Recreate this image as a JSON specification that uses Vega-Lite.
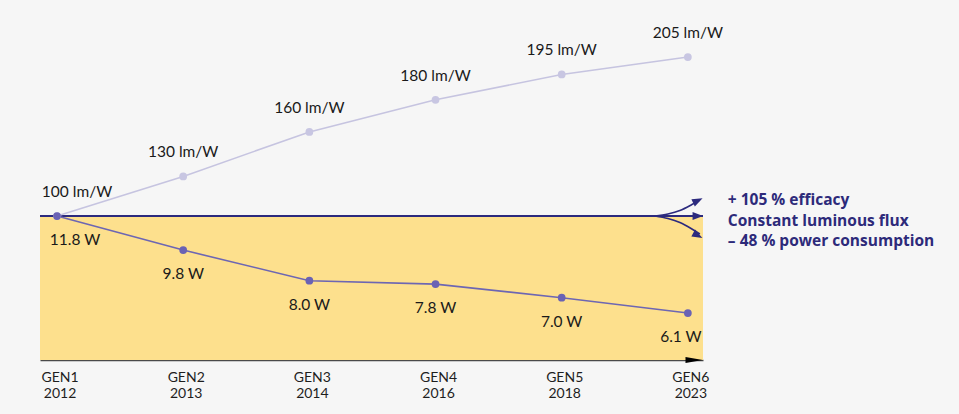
{
  "$schema": "https://vega.github.io/schema/vega-lite/v6.json",
  "width": 663,
  "height": 340,
  "autosize": {"type": "none"},
  "padding": {"left": 40, "top": 20, "right": 256, "bottom": 54},
  "background": "#f6f6f6",
  "config": {
    "view": {"stroke": null},
    "font": "Lato",
    "axisX": {"domain": true, "domainColor": "#4a4a4a", "domainWidth": 1.5, "labels": false, "ticks": false, "grid": false, "title": null}
  },
  "datasets": {
    "gens": [
      {"gen": "GEN1", "year": "2012", "idx": 0, "efficacy": 100, "power": 11.8},
      {"gen": "GEN2", "year": "2013", "idx": 1, "efficacy": 130, "power": 9.8},
      {"gen": "GEN3", "year": "2014", "idx": 2, "efficacy": 160, "power": 8.0},
      {"gen": "GEN4", "year": "2016", "idx": 3, "efficacy": 180, "power": 7.8},
      {"gen": "GEN5", "year": "2018", "idx": 4, "efficacy": 195, "power": 7.0},
      {"gen": "GEN6", "year": "2023", "idx": 5, "efficacy": 205, "power": 6.1}
    ],
    "arrows": [
      {"arrow": "up", "step": 0, "idx": 4.739, "p": 11.8},
      {"arrow": "up", "step": 1, "idx": 4.842, "p": 11.918},
      {"arrow": "up", "step": 2, "idx": 4.937, "p": 12.123},
      {"arrow": "up", "step": 3, "idx": 5.032, "p": 12.476},
      {"arrow": "up", "step": 4, "idx": 5.095, "p": 12.74},
      {"arrow": "down", "step": 0, "idx": 4.739, "p": 11.8},
      {"arrow": "down", "step": 1, "idx": 4.842, "p": 11.653},
      {"arrow": "down", "step": 2, "idx": 4.937, "p": 11.418},
      {"arrow": "down", "step": 3, "idx": 5.032, "p": 11.036},
      {"arrow": "down", "step": 4, "idx": 5.095, "p": 10.742}
    ],
    "heads": [
      {"arrow": "up", "idx": 5.079, "p": 12.71, "angle": -26},
      {"arrow": "flat", "idx": 5.079, "p": 11.8, "angle": 0},
      {"arrow": "down", "idx": 5.079, "p": 10.654, "angle": 28}
    ],
    "notes": [
      {"text": "+ 105 % efficacy\nConstant luminous flux\n– 48 % power consumption", "idx": 5.317, "p": 11.8}
    ],
    "frame": [
      {"left": -0.135, "right": 5.12, "base": 11.8, "floor": 3.34, "axisArrow": 5.05}
    ]
  },
  "layer": [
    {
      "layer": [
        {
          "data": {"name": "frame"},
          "mark": {"type": "rect", "color": "#fde08d"},
          "encoding": {
            "x": {"field": "left", "type": "quantitative", "scale": {"domain": [-0.135, 5.12], "nice": false, "zero": false}, "title": null},
            "x2": {"field": "right"},
            "y": {"field": "base", "type": "quantitative", "scale": {"type": "linear", "domain": [3.34, 23.32], "nice": false, "zero": false}, "axis": null},
            "y2": {"field": "floor"}
          }
        },
        {
          "data": {"name": "frame"},
          "mark": {"type": "rule", "color": "#2c2a7e", "strokeWidth": 2},
          "encoding": {
            "x": {"field": "left", "type": "quantitative", "title": null},
            "x2": {"field": "right"},
            "y": {"field": "base", "type": "quantitative", "axis": null}
          }
        },
        {
          "data": {"name": "arrows"},
          "mark": {"type": "line", "color": "#2c2a7e", "strokeWidth": 1.6, "interpolate": "monotone"},
          "encoding": {
            "x": {"field": "idx", "type": "quantitative", "title": null},
            "y": {"field": "p", "type": "quantitative", "axis": null},
            "detail": {"field": "arrow"},
            "order": {"field": "step"}
          }
        },
        {
          "data": {"name": "heads"},
          "mark": {"type": "point", "filled": true, "opacity": 1, "color": "#2c2a7e", "shape": "M-1,-0.75L1,0L-1,0.75Z", "size": 110},
          "encoding": {
            "x": {"field": "idx", "type": "quantitative", "title": null},
            "y": {"field": "p", "type": "quantitative", "axis": null},
            "angle": {"field": "angle", "type": "quantitative", "scale": null}
          }
        },
        {
          "data": {"name": "frame"},
          "mark": {"type": "point", "filled": true, "opacity": 1, "color": "#000000", "shape": "M-1,-0.35L1,0L-1,0.35Z", "size": 300},
          "encoding": {
            "x": {"field": "axisArrow", "type": "quantitative", "title": null},
            "y": {"field": "floor", "type": "quantitative", "axis": null}
          }
        },
        {
          "data": {"name": "gens"},
          "mark": {"type": "line", "color": "#6d66b3", "strokeWidth": 1.6},
          "encoding": {
            "x": {"field": "idx", "type": "quantitative", "title": null},
            "y": {"field": "power", "type": "quantitative", "axis": null}
          }
        },
        {
          "data": {"name": "notes"},
          "mark": {"type": "text", "align": "left", "baseline": "middle", "font": "Open Sans", "fontWeight": "bold", "fontSize": 15.5, "color": "#2d2a7a", "lineHeight": 20.5, "lineBreak": "\n", "dy": -16},
          "encoding": {
            "x": {"field": "idx", "type": "quantitative", "title": null},
            "y": {"field": "p", "type": "quantitative", "axis": null},
            "text": {"field": "text"}
          }
        },
        {
          "data": {"name": "gens"},
          "mark": {"type": "text", "align": "center", "baseline": "middle", "fontSize": 14, "color": "#1e1e1e", "dx": 3, "dy": 18},
          "encoding": {
            "x": {"field": "idx", "type": "quantitative", "title": null},
            "y": {"value": "height"},
            "text": {"field": "gen"}
          }
        },
        {
          "data": {"name": "gens"},
          "mark": {"type": "text", "align": "center", "baseline": "middle", "fontSize": 14, "color": "#1e1e1e", "dx": 3, "dy": 34},
          "encoding": {
            "x": {"field": "idx", "type": "quantitative", "title": null},
            "y": {"value": "height"},
            "text": {"field": "year"}
          }
        }
      ]
    },
    {
      "data": {"name": "gens"},
      "layer": [
        {
          "mark": {"type": "line", "color": "#c6c4e0", "strokeWidth": 1.6},
          "encoding": {
            "x": {"field": "idx", "type": "quantitative", "title": null},
            "y": {"field": "efficacy", "type": "quantitative", "scale": {"type": "pow", "exponent": 1.5, "domain": [-82.74, 225.5], "nice": false, "zero": false}, "axis": null}
          }
        },
        {
          "mark": {"type": "point", "filled": true, "opacity": 1, "color": "#c8c6e2", "size": 60},
          "encoding": {
            "x": {"field": "idx", "type": "quantitative", "title": null},
            "y": {"field": "efficacy", "type": "quantitative", "axis": null}
          }
        },
        {
          "mark": {"type": "text", "align": "center", "baseline": "middle", "fontSize": 15.5, "color": "#1a1a1a", "dy": -24, "dx": {"expr": "datum.idx == 0 ? 20 : 0"}, "text": {"expr": "datum.efficacy + ' lm/W'"}},
          "encoding": {
            "x": {"field": "idx", "type": "quantitative", "title": null},
            "y": {"field": "efficacy", "type": "quantitative", "axis": null}
          }
        }
      ]
    },
    {
      "data": {"name": "gens"},
      "layer": [
        {
          "mark": {"type": "point", "filled": true, "opacity": 1, "color": "#6a62b4", "size": 60},
          "encoding": {
            "x": {"field": "idx", "type": "quantitative", "title": null},
            "y": {"field": "power", "type": "quantitative", "scale": {"type": "linear", "domain": [3.34, 23.32], "nice": false, "zero": false}, "axis": null}
          }
        },
        {
          "mark": {"type": "text", "align": "center", "baseline": "middle", "fontSize": 15.5, "color": "#1a1a1a", "dy": 24, "dx": {"expr": "datum.idx == 0 ? 18 : (datum.idx == 5 ? -7 : 0)"}, "text": {"expr": "format(datum.power, '.1f') + ' W'"}},
          "encoding": {
            "x": {"field": "idx", "type": "quantitative", "title": null},
            "y": {"field": "power", "type": "quantitative", "axis": null}
          }
        }
      ]
    }
  ],
  "resolve": {"scale": {"y": "independent"}}
}
